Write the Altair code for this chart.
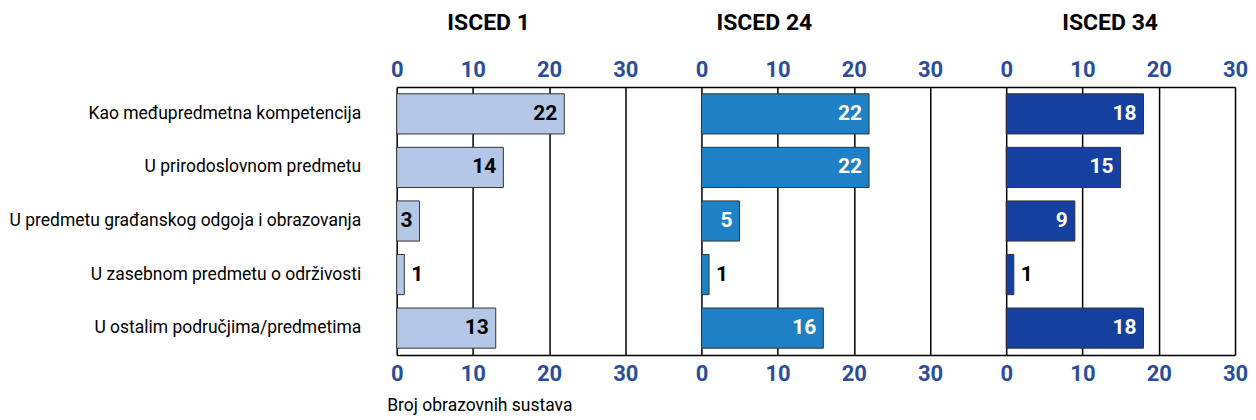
import altair as alt
import pandas as pd

categories = [
    "Kao međupredmetna kompetencija",
    "U prirodoslovnom predmetu",
    "U predmetu građanskog odgoja i obrazovanja",
    "U zasebnom predmetu o održivosti",
    "U ostalim područjima/predmetima",
]
panel_titles = ["ISCED 1", "ISCED 24", "ISCED 34"]
isced1_values = [22, 14, 3, 1, 13]
isced24_values = [22, 22, 5, 1, 16]
isced34_values = [18, 15, 9, 1, 18]
tick_values = [0, 10, 20, 30]
axis_title = "Broj obrazovnih sustava"

NUM_FONT = "Roboto"
TXT_FONT = "Roboto"
BLUE = "#2A4D9C"
PLOT_H = 268


def panel(values, title, title_dx, fill, inside_color, dmax, width, first):
    df = pd.DataFrame({"category": categories, "value": values})
    yaxis = (
        alt.Axis(title=None, ticks=False, domain=False, labelPadding=36,
                 labelFont=TXT_FONT, labelFontSize=17.5, labelColor="black",
                 labelLimit=500)
        if first else None
    )
    base = alt.Chart(df).encode(
        y=alt.Y("category:N", sort=categories,
                scale=alt.Scale(paddingInner=0.25, paddingOuter=0.125),
                axis=yaxis)
    )
    xscale = alt.Scale(domain=[0, dmax], nice=False, zero=True)
    label_style = dict(labelFont=NUM_FONT, labelFontSize=22, labelFontWeight="bold",
                       labelColor=BLUE, labelFlush=False, labelOverlap=False,
                       ticks=False, domain=True, domainColor="black", domainWidth=1.5,
                       values=tick_values)
    top_axis = alt.Axis(orient="top", title=None, grid=True, gridColor="black",
                        gridWidth=1.5, labelPadding=6, **label_style)
    if first:
        bottom_axis = alt.Axis(orient="bottom", grid=False, labelPadding=9,
                               title=axis_title, titleX=-10, titleY=56,
                               titleAlign="left", titleBaseline="alphabetic",
                               titleFont=TXT_FONT, titleFontSize=17.5,
                               titleFontWeight="normal", titleColor="black",
                               **label_style)
    else:
        bottom_axis = alt.Axis(orient="bottom", grid=False, labelPadding=9,
                               title=None, **label_style)
    bars = base.mark_bar(fill=fill, stroke="#333333", strokeWidth=1).encode(
        x=alt.X("value:Q", scale=xscale, axis=top_axis)
    )
    inside = base.transform_filter(alt.datum.value >= 3).mark_text(
        align="right", baseline="middle", dx=-7, font=NUM_FONT, fontSize=21,
        fontWeight="bold", color=inside_color
    ).encode(x=alt.X("value:Q", scale=xscale, axis=bottom_axis), text="value:Q")
    outside = base.transform_filter(alt.datum.value < 3).mark_text(
        align="left", baseline="middle", dx=7, font=NUM_FONT, fontSize=21,
        fontWeight="bold", color="black"
    ).encode(x=alt.X("value:Q", scale=xscale, axis=None), text="value:Q")
    return alt.layer(bars, inside, outside).resolve_axis(x="independent").properties(
        width=width, height=PLOT_H,
        title=alt.TitleParams(title, anchor="start", align="center", dx=title_dx,
                              frame="group", offset=23, font=TXT_FONT, fontSize=23,
                              fontWeight="bold", color="black"),
    )


p1 = panel(isced1_values, panel_titles[0], 92, "#B4C7E7", "black", 40, 305, True)
p2 = panel(isced24_values, panel_titles[1], 63, "#2080C5", "white", 40, 305, False)
p3 = panel(isced34_values, panel_titles[2], 104, "#15409F", "white", 30, 229, False)

chart = alt.hconcat(p1, p2, p3, spacing=0, bounds="flush").properties(
    padding={"left": 0, "top": 4, "right": 0, "bottom": 0}
).configure_view(stroke=None)

chart.save("out.html", embed_options={"renderer": "svg", "actions": False})
